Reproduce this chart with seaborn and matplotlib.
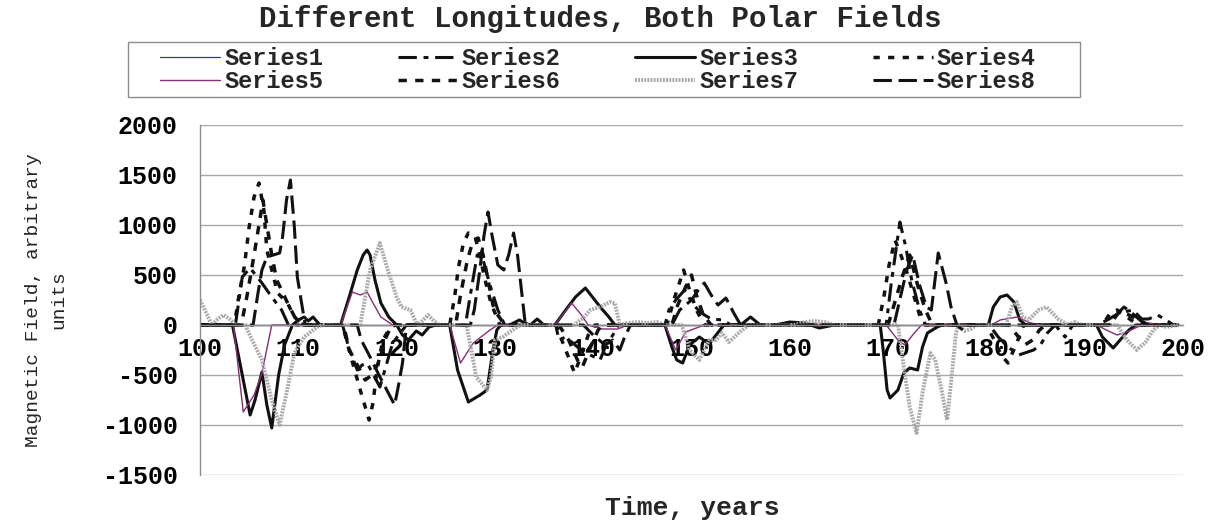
import matplotlib
matplotlib.use("Agg")
import matplotlib.pyplot as plt
from matplotlib.font_manager import FontProperties
from matplotlib.patches import Rectangle
import seaborn as sns
import pandas as pd

# ---------------- data ----------------
series_names = ["Series1", "Series2", "Series3", "Series4",
                "Series5", "Series6", "Series7", "Series8"]

s1_t = [100, 199.5]
s1_v = [0, 0]

s2_t = [100, 103.6, 104.3, 105.1, 106.3, 107.3, 108.3, 109.0,
        114.5, 115.2, 116.0, 116.5, 117.0, 118.3, 119.6, 121.0,
        127.0, 127.5, 128.2, 128.8, 129.5, 130.3, 131.0,
        136.2, 136.5, 137.2, 138.4, 139.3, 140.7, 141.3, 142.0, 142.6,
        147.3, 147.7, 148.4, 149.3, 150.2, 151.0, 152.0, 153.2, 154.0,
        169.8, 170.3, 171.2, 171.8, 172.4, 173.2, 173.8,
        180.3, 181.2, 182.2, 183.3, 184.8, 185.5, 186.2, 187.0, 188.0, 188.8,
        191.3, 192.3, 193.5, 194.9, 195.8, 196.5, 197.4, 198.3, 199.0, 199.5]
s2_v = [0, 0, 480, 570, 420, 280, 150, 0,
        0, -250, -450, -400, -380, -620, -180, 0,
        0, 300, 700, 650, 400, 150, 0,
        0, -150, -120, -220, -280, -350, -200, -100, 0,
        0, 150, 250, 350, 200, 120, 60, 50, 0,
        0, 400, 1030, 780, 450, 150, 0,
        0, -120, -220, -300, -250, -200, -80, 0, -120, 0,
        0, 50, 120, 150, 60, 60, 100, 50, 0, 0]

s3_t = [100, 103.3, 104.2, 105.1, 105.6, 106.3, 106.8, 107.3, 108.0, 108.6,
        109.4, 110.0, 110.6, 111.0, 111.5, 112.2,
        114.3, 115.3, 116.0, 116.6, 117.0, 117.3, 117.8, 118.4, 119.2, 120.0,
        120.6, 121.2, 122.0, 122.6, 123.3, 124.0,
        125.4, 126.2, 127.3, 128.5, 129.2, 129.8, 130.2, 130.6,
        131.5, 132.5, 133.0, 133.6, 134.3, 135.0,
        136.1, 137.2, 138.2, 139.2, 140.0, 140.8, 141.6, 142.2,
        147.3, 148.0, 148.5, 149.1, 149.8, 150.8, 151.8, 152.5, 153.3,
        155.0, 156.0, 157.0, 158.5, 160.0, 161.5, 163.0, 164.5,
        169.2, 169.5, 169.9, 170.2, 171.0, 171.6, 172.2, 173.0, 173.5, 174.0,
        175.0, 175.5,
        180.2, 180.7, 181.4, 182.1, 182.8, 183.4, 184.0,
        191.2, 191.8, 192.9, 193.6, 194.5, 195.2, 199.5]
s3_v = [0, 0, -450, -900, -750, -470, -800, -1030, -500, -200,
        0, 50, 80, 40, 80, 0,
        0, 320, 550, 700, 750, 700, 450, 220, 80, 0,
        -100, -150, -60, -100, -20, 0,
        0, -450, -770, -700, -650, -250, -50, 0,
        0, 50, 20, 0, 60, 0,
        0, 150, 280, 370, 270, 170, 80, 0,
        0, -220, -350, -380, -200, -120, -190, -100, 0,
        0, 80, 0, 0, 30, 20, -30, 0,
        0, -250, -650, -730, -650, -480, -430, -450, -220, -80,
        -20, 0,
        0, 180, 280, 300, 230, 50, 0,
        0, -120, -230, -150, -50, 0, 0]

s4_t = [100, 103.5, 104.0, 104.5, 105.0, 105.5, 106.0, 106.5, 106.8, 107.3,
        107.9, 108.9, 109.6, 110.5,
        114.5, 115.3, 116.3, 117.2, 117.6, 118.0, 118.6, 119.2, 119.8,
        125.4, 125.9, 126.3, 126.8, 127.3, 128.0, 128.5, 129.0, 129.6, 130.5,
        136.2, 137.0, 137.6, 138.1, 138.8, 139.5, 140.2,
        147.5, 148.2, 149.2, 149.8, 150.5, 151.3,
        169.0, 169.6, 170.1, 170.7, 171.3, 172.0, 172.6, 173.2, 173.8,
        180.0, 180.8, 181.5, 182.2, 183.0, 183.8,
        191.8, 192.6, 193.3, 194.0, 195.0, 195.5, 199.5]
s4_v = [0, 0, 320, 580, 980, 1280, 1420, 1150, 750, 550,
        320, 220, 80, 0,
        0, -300, -650, -950, -780, -450, -150, -50, 0,
        0, 280, 580, 820, 920, 880, 680, 450, 220, 0,
        0, -200, -350, -480, -300, -100, 0,
        0, 250, 550, 350, 150, 0,
        0, 300, 600, 850, 700, 500, 300, 100, 0,
        0, -150, -300, -380, -200, 0,
        0, 120, 150, 100, 30, 0, 0]

s5_t = [100, 103.4, 104.4, 105.5, 106.3, 107.3,
        114.3, 115.5, 116.3, 117.0, 117.6, 118.4, 119.6,
        125.4, 126.5, 127.8, 129.5, 130.3,
        136.1, 137.8, 138.8, 139.5, 141.0, 142.5, 143.5,
        147.3, 148.4, 149.4, 151.3,
        169.8, 171.0, 171.7, 172.5, 173.4,
        180.5, 181.4, 182.5, 183.2, 184.2, 185.3,
        191.2, 192.4, 193.3, 194.5, 195.8, 196.5, 198.0, 199.5]
s5_v = [0, 0, -870, -700, -480, 0,
        0, 330, 300, 330, 220, 80, 0,
        0, -380, -180, -50, 0,
        0, 220, 100, 0, -40, -40, 0,
        0, -250, -70, 0,
        0, -150, -200, -100, 0,
        0, 50, 70, 80, 30, 0,
        0, -60, -100, -60, 0, 20, 0, 0]

s6_t = [100, 104.2, 104.8, 105.5, 106.0, 106.4, 106.8, 107.3, 107.8, 108.3,
        109.0, 109.8, 110.5,
        114.6, 115.2, 116.0, 116.8, 117.5, 118.3, 118.8, 119.5,
        126.0, 126.5, 127.2, 127.8, 128.3, 128.8, 129.3, 129.8, 130.3, 131.0,
        136.5, 137.5, 138.4, 138.9, 139.6, 140.5, 141.0,
        148.0, 148.6, 149.4, 150.0, 150.5, 151.2, 152.0,
        170.0, 170.6, 171.5, 172.2, 173.0, 173.8, 174.5,
        182.3, 183.1, 183.9, 184.7, 185.4, 186.0,
        192.5, 193.5, 194.5, 195.5, 196.5, 199.5]
s6_v = [0, 0, 300, 700, 1000, 1250, 1000, 700, 450, 350,
        200, 50, 0,
        0, -250, -400, -550, -500, -350, -150, 0,
        0, 300, 650, 850, 870, 700, 450, 200, 100, 0,
        0, -150, -350, -420, -250, -50, 0,
        0, 200, 380, 500, 300, 100, 0,
        0, 200, 500, 700, 400, 150, 0,
        0, -100, -200, -150, -50, 0,
        0, 130, 100, 50, 0, 0]

s7_t = [100, 100.5, 101.2, 101.8, 102.4, 103.0, 103.6, 104.6, 105.3, 106.3,
        107.3, 108.1, 108.8, 109.6, 110.6, 111.9, 112.5,
        116.3, 117.3, 118.3, 119.1, 120.0, 120.5, 121.4, 122.1, 122.6, 123.2,
        123.8, 124.3,
        127.1, 127.6, 128.1, 129.2, 129.6, 130.0, 130.8, 131.8, 132.6,
        138.0, 139.0, 139.7, 140.7, 141.7, 142.2, 142.7, 143.5, 144.5, 145.5,
        146.5, 147.2,
        149.0, 149.8, 150.8, 151.8, 152.5, 153.1, 153.8, 154.8, 155.8,
        160.5, 161.5, 162.5, 163.5, 164.5,
        171.0, 171.6, 172.2, 172.9, 173.5, 174.3, 174.8, 175.5, 176.0, 176.5,
        176.9, 177.2, 177.8, 178.4, 179.0,
        182.0, 182.6, 183.1, 183.7, 184.3, 185.3, 186.1, 187.3, 188.3, 189.0,
        189.7,
        193.3, 194.3, 195.3, 196.2, 197.0, 197.6, 198.3, 199.5]
s7_v = [250, 150, 0, 60, 100, 60, 0, 0, -150, -350,
        -750, -1000, -680, -280, -120, -20, 0,
        0, 550, 820, 550, 280, 180, 150, 0, 40, 100,
        40, 0,
        0, -250, -520, -650, -520, -150, -120, -50, 0,
        0, 70, 150, 180, 230, 220, 0, 20, 30, 20,
        30, 0,
        0, -250, -350, -150, -150, -80, -170, -80, 0,
        0, 30, 40, 30, 0,
        0, -420, -820, -1080, -680, -280, -350, -680, -950, -480,
        -80, 0, -60, -40, 0,
        0, 180, 230, 80, 50, 150, 180, 60, 0, 30,
        0,
        0, -150, -250, -170, -50, 0, -20, 0]

s8_t = [100, 105.4, 105.9, 106.3, 106.8, 108.1, 108.4, 108.8, 109.2, 109.6,
        109.9, 110.4, 110.7,
        116.0, 116.4, 117.2, 118.2, 119.0, 119.8, 120.2, 120.6, 121.0,
        127.5, 127.9, 128.4, 128.9, 129.3, 129.7, 130.3, 130.9, 131.4, 131.9,
        132.3, 132.7, 133.1,
        139.0, 140.0, 141.2, 142.0, 142.7, 143.2, 143.8,
        148.0, 148.8, 150.0, 150.7, 151.3, 152.0, 152.7, 153.5, 154.3, 155.0,
        170.6, 171.3, 171.9, 172.5, 173.2, 173.9, 174.4, 175.1, 175.9, 176.4,
        177.0, 177.6, 178.2,
        192.5, 193.4, 194.0, 194.8, 195.5, 196.2, 199.5]
s8_v = [0, 0, 320, 550, 680, 720, 880, 1250, 1450, 980,
        480, 180, 0,
        0, -150, -300, -500, -650, -800, -600, -380, 0,
        0, 150, 500, 900, 1130, 900, 600, 550, 700, 920,
        700, 350, 0,
        0, -100, -200, -150, -250, -120, 0,
        0, 150, 250, 350, 420, 300, 200, 270, 120, 0,
        0, 300, 550, 700, 400, 180, 150, 720, 420, 180,
        0, -50, 0,
        0, 120, 180, 120, 60, 0, 0]

x_ticks = [100, 110, 120, 130, 140, 150, 160, 170, 180, 190, 200]
y_ticks = [-1500, -1000, -500, 0, 500, 1000, 1500, 2000]

title_text = "Different Longitudes, Both Polar Fields"
x_label = "Time, years"
y_label = "Magnetic Field, arbitrary\nunits"

# ---------------- build long-form table ----------------
all_t = [s1_t, s2_t, s3_t, s4_t, s5_t, s6_t, s7_t, s8_t]
all_v = [s1_v, s2_v, s3_v, s4_v, s5_v, s6_v, s7_v, s8_v]
frames = []
for name, tt, vv in zip(series_names, all_t, all_v):
    frames.append(pd.DataFrame({"t": tt, "v": vv, "series": name}))
df = pd.concat(frames, ignore_index=True)

# ---------------- styling ----------------
sns.set_theme(style="white")
plt.rcParams["font.family"] = ["Liberation Mono", "DejaVu Sans Mono"]
plt.rcParams["axes.unicode_minus"] = False

palette = {"Series1": "#2e3a8c", "Series2": "#111111", "Series3": "#111111",
           "Series4": "#111111", "Series5": "#842f76", "Series6": "#111111",
           "Series7": "#a9a9a9", "Series8": "#111111"}
dashes = {"Series1": "", "Series2": (6, 2.2, 1.6, 2.2), "Series3": "",
          "Series4": (1.8, 2.4), "Series5": "", "Series6": (2.4, 2.4),
          "Series7": (0.5, 0.3), "Series8": (6, 2.2)}
sizes = {"Series1": 0.9, "Series2": 2.2, "Series3": 2.2, "Series4": 2.5,
         "Series5": 1.0, "Series6": 2.5, "Series7": 2.8, "Series8": 2.2}

W, H = 1212, 521
fig = plt.figure(figsize=(W / 100, H / 100), dpi=100)
ax = fig.add_axes([200 / W, 1 - 475 / H, 983 / W, 350 / H])

sns.lineplot(data=df, x="t", y="v", hue="series", style="series", size="series",
             hue_order=series_names, style_order=series_names, size_order=series_names,
             palette=palette, dashes=dashes, sizes=sizes,
             estimator=None, sort=False, ax=ax, legend="full")

ax.set_xlim(100, 200)
ax.set_ylim(-1500, 2000)
ax.set_xticks(x_ticks)
ax.set_yticks(y_ticks)
ax.set_xlabel("")
ax.set_ylabel("")
ax.yaxis.grid(True, color="#a8a8a8", linewidth=1.0)
ax.xaxis.grid(False)
ax.set_axisbelow(True)

for side in ["top", "right"]:
    ax.spines[side].set_visible(False)
ax.spines["left"].set_color("#8c8c8c")
ax.spines["left"].set_linewidth(1.0)
ax.spines["bottom"].set_position(("data", 0))
ax.spines["bottom"].set_color("#8c8c8c")
ax.spines["bottom"].set_linewidth(1.0)

tick_font = FontProperties(family="Liberation Mono", weight="bold", size=18)
ax.tick_params(axis="y", direction="out", length=5, width=1, color="#8c8c8c",
               pad=11, labelcolor="black")
ax.tick_params(axis="x", direction="out", length=4, width=1, color="#8c8c8c",
               pad=5, labelcolor="black")
for lab in ax.get_xticklabels() + ax.get_yticklabels():
    lab.set_fontproperties(tick_font)

# legend (frameless, with a separate box drawn around it)
handles, labels = ax.get_legend_handles_labels()
hmap = dict(zip(labels, handles))
order = ["Series1", "Series5", "Series2", "Series6",
         "Series3", "Series7", "Series4", "Series8"]
leg = ax.legend([hmap[n] for n in order], order, ncol=4, loc="center",
                bbox_to_anchor=(598 / W, 1 - 70 / H),
                bbox_transform=fig.transFigure, frameon=False,
                prop=FontProperties(family="Liberation Mono", weight="bold", size=17),
                handlelength=2.55, handletextpad=0.17, columnspacing=3.15,
                labelspacing=0.0, borderpad=0.0, borderaxespad=0)
fig.patches.append(Rectangle((128 / W, 1 - 97 / H), (1080 - 128) / W, 55 / H,
                             transform=fig.transFigure, fill=False,
                             edgecolor="#8c8c8c", linewidth=1.0))

fig.text(600 / W, 1 - 19 / H, title_text, ha="center", va="center",
         fontproperties=FontProperties(family="Liberation Mono", weight="bold", size=21))
fig.text(692 / W, 1 - 508 / H, x_label, ha="center", va="center",
         fontproperties=FontProperties(family="Liberation Mono", weight="bold", size=19))
fig.text(46 / W, 1 - 300 / H, y_label, ha="center", va="center", rotation=90,
         multialignment="center", linespacing=1.6,
         fontproperties=FontProperties(family="Liberation Mono", size=14))

fig.savefig("out.png", dpi=100, facecolor="white")
